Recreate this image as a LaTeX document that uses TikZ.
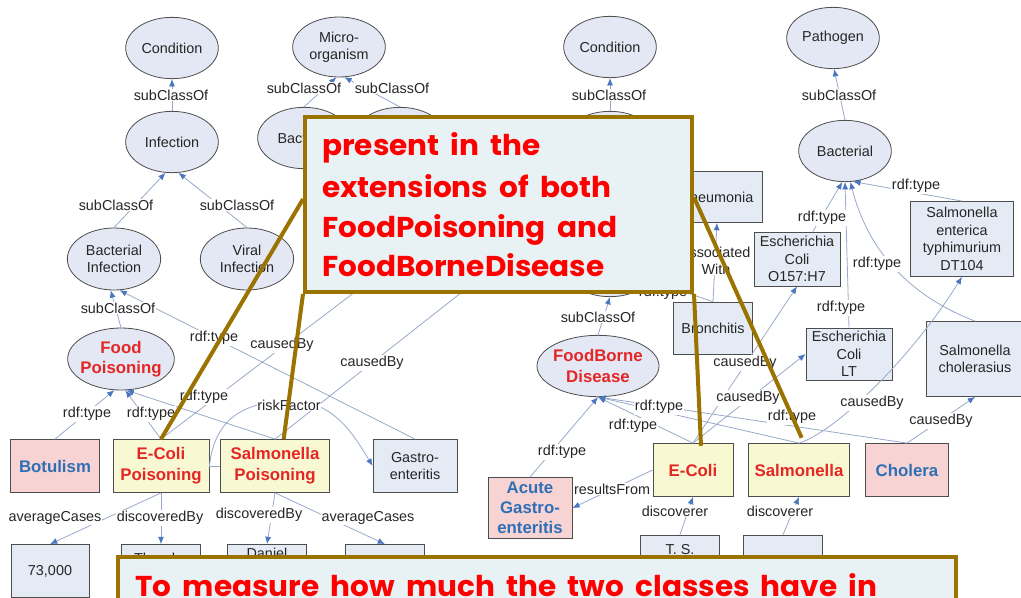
\documentclass[tikz,border=0pt]{standalone}
\usepackage{fontspec}
\setmainfont{Liberation Sans}
\newfontfamily\callfont{Poppins}[FakeStretch=1.03, WordSpace=1.8]
\usetikzlibrary{arrows.meta,shapes.geometric,calc}

\definecolor{edgecol}{HTML}{98AACB}
\definecolor{tipcol}{HTML}{4A76C0}
\definecolor{ellfill}{HTML}{E3E8F4}
\definecolor{boxfill}{HTML}{E5EBF5}
\definecolor{nodeborder}{HTML}{4D4D4D}
\definecolor{pinkfill}{HTML}{F8D3D3}
\definecolor{yellowfill}{HTML}{F8F8D2}
\definecolor{redtext}{HTML}{E42625}
\definecolor{bluetext}{HTML}{2E6FB5}
\definecolor{textdark}{HTML}{262626}
\definecolor{callfill}{HTML}{E8F1F3}
\definecolor{callborder}{HTML}{9A7300}
\definecolor{callred}{HTML}{FF0000}

\begin{document}
\begin{tikzpicture}[x=0.75pt,y=-0.75pt,
  cls/.style={ellipse, draw=nodeborder, line width=0.6pt, fill=ellfill, inner sep=0pt,
    align=center, text=textdark, font=\fontsize{10.8pt}{13pt}\selectfont,
    minimum width=69.5pt, minimum height=46pt},
  key/.style={cls, inner xsep=-4pt, text=redtext, font=\bfseries\fontsize{12.6pt}{15.3pt}\selectfont},
  box/.style={rectangle, draw=nodeborder, line width=0.6pt, fill=boxfill, inner sep=0pt,
    align=center, text=textdark, font=\fontsize{10.8pt}{13.2pt}\selectfont},
  inst/.style={box, fill=yellowfill, text=redtext, font=\bfseries\fontsize{12.6pt}{16pt}\selectfont},
  ext/.style={box, fill=pinkfill, text=bluetext, font=\bfseries\fontsize{12.6pt}{15pt}\selectfont},
  lbl/.style={fill=white, inner sep=0.6pt, text=textdark, align=center,
    font=\fontsize{10.8pt}{12.6pt}\selectfont},
  txt/.style={inner sep=0pt, text=textdark, align=center, font=\fontsize{10.8pt}{13pt}\selectfont},
  edge/.style={draw=edgecol, line width=0.6pt, -{Latex[length=5.5pt,width=4.5pt,color=tipcol]}},
  plain/.style={draw=edgecol, line width=0.6pt},
  callout/.style={rectangle, draw=callborder, line width=3pt, fill=callfill, inner sep=0pt},
  pointer/.style={draw=callborder, line width=3pt},
  calltext/.style={anchor=base west, inner sep=0pt, text=callred,
    font=\callfont\bfseries\fontsize{21.5pt}{30pt}\selectfont}
]
\useasboundingbox (0,0) rectangle (1021,597);
\fill[white] (0,0) rectangle (1021,597);

% ---------- class hierarchy (ellipses) ----------
\node[cls] (condA) at (172,48) {Condition};
\node[cls, minimum height=45pt] (micro) at (339,47) {Micro-\\organism};
\node[cls] (infection) at (172,142) {Infection};
\node[cls] (bacteria) at (304,138) {Bacteria};
\node[cls] (hidA) at (400,138) {};
\node[cls] (condB) at (610,47) {Condition};
\node[cls] (pathogen) at (833,38) {Pathogen};
\node[cls] (bacterial) at (845,151) {Bacterial};
\node[cls] (hidB) at (610,142) {};
\node[cls] (hidC) at (610,266) {};
\node[cls, minimum width=70pt, minimum height=46.5pt] (bactinf) at (114,259) {Bacterial\\Infection};
\node[cls, minimum width=70pt, minimum height=46.5pt] (viral) at (247,259) {Viral\\Infection};
\node[key, minimum width=80pt, minimum height=46.5pt] (foodpois) at (121,359) {Food\\Poisoning};
\node[key, minimum width=91.5pt, minimum height=46pt] (fbd) at (598,366) {FoodBorne\\Disease};

% ---------- individuals (boxes) ----------
\node[box, minimum width=67.5pt, minimum height=38.25pt] (pneu) at (717,197) {Pneumonia};
\node[box, minimum width=59.25pt, minimum height=39pt] (bronch) at (713,328) {Bronchitis};
\node[box, minimum width=64.5pt, minimum height=40.5pt] (o157) at (797,259) {Escherichia\\Coli\\O157:H7};
\node[box, minimum width=64.5pt, minimum height=39pt] (lt) at (849,354) {Escherichia\\Coli\\LT};
\node[box, minimum width=77.25pt, minimum height=56.25pt] (dt104) at (962,239) {Salmonella\\enterica\\typhimurium\\DT104};
\node[box, minimum width=73.5pt, minimum height=56.25pt] (chol) at (975,359) {Salmonella\\cholerasius};

\node[ext, minimum width=66.75pt, minimum height=39.75pt] (botulism) at (55,466) {Botulism};
\node[inst, minimum width=72pt, minimum height=39.75pt] (ecp) at (161,466) {E-Coli\\Poisoning};
\node[inst, minimum width=81.75pt, minimum height=39.75pt] (sp) at (275,466) {Salmonella\\Poisoning};
\node[box, minimum width=63pt, minimum height=39.75pt] (gastro) at (415,466) {Gastro-\\enteritis};

\node[box, minimum width=58.5pt, minimum height=39.75pt] (n73) at (50,571) {73,000};
\node[box, minimum width=59.25pt, minimum height=39.75pt] (theo) at (161,571) {};
\node[box, minimum width=59.25pt, minimum height=39.75pt] (daniel) at (267,571) {};
\node[box, minimum width=59.25pt, minimum height=39.75pt] (n4) at (385,571) {};
\node[txt] at (161,558) {Theodor};
\node[txt] at (267,553) {Daniel};

\node[ext, minimum width=63pt, minimum height=45.75pt] (acute) at (530,508) {Acute\\Gastro-\\enteritis};
\node[inst, minimum width=60pt, minimum height=39.75pt] (ecoli) at (693,470) {E-Coli};
\node[inst, minimum width=75.75pt, minimum height=39.75pt] (salm) at (799,470) {Salmonella};
\node[ext, minimum width=62.25pt, minimum height=39.75pt] (cholera) at (907,470) {Cholera};

\node[box, minimum width=59.25pt, minimum height=46.5pt] (ts) at (680,566) {};
\node[box, minimum width=59.25pt, minimum height=46.5pt] (ds) at (783,566) {};
\node[txt] at (680,550) {T. S.};
\node[txt] at (783,562) {D. Salmon};

% ---------- hidden ends under the first note ----------
\coordinate (ecpEnd) at (430,235);
\coordinate (spEnd) at (560,215);

% ---------- relations ----------
\draw[edge] (infection.north) -- (condA.south);
\draw[edge] (bacteria.north) -- (micro.265);
\draw[edge] (hidA.north) -- (micro.280);
\draw[edge] (bactinf.north) -- (infection.258);
\draw[edge] (viral.north) -- (infection.282);
\draw[edge] (foodpois.north) -- (bactinf.264);
\draw[edge] (gastro.north) -- (bactinf.280);
\draw[edge] (botulism.north) -- (foodpois.258);
\draw[edge] (ecp.north) -- (foodpois.278);
\draw[edge] (sp.north) -- (foodpois.280);
\draw[edge] (ecp.north) -- (ecpEnd);
\draw[edge] (sp.north) -- (spEnd);
\draw[plain] (ecp.east) -- (sp.west);
\draw[edge] (ecp.east) .. controls (214,425) and (236,402) .. (289,401)
  .. controls (330,400) and (350,428) .. (gastro.west);
\draw[edge] (ecp.south) -- (n73.north);
\draw[edge] (ecp.south) -- (theo.north);
\draw[edge] (sp.south) -- (daniel.north);
\draw[edge] (sp.south) -- (n4.north);

\draw[edge] (hidB.north) -- (condB.south);
\draw[edge] (bacterial.north) -- (pathogen.272);
\draw[edge] (fbd.north) -- (hidC.south);
\draw[plain] (bronch.north) -- (hidC.-20);
\draw[edge] (bronch.north) -- (pneu.south);
\draw[edge] (ecoli.north) -- (o157.south);
\draw[edge] (ecoli.north) -- (lt.west);
\draw[edge] (ecoli.north) -- (fbd.south);
\draw[edge] (salm.north) -- (fbd.south);
\draw[edge] (cholera.north) -- (fbd.south);
\draw[edge] (acute.north) -- (fbd.south);
\draw[edge] (ecoli.west) -- (acute.east);
\draw[edge] (ts.north) -- (ecoli.south);
\draw[edge] (ds.north) -- (salm.south);
\draw[edge] (salm.north) .. controls (835,432) and (910,360) .. (dt104.south);
\draw[edge] (cholera.north) -- (chol.south);
\draw[edge] (o157.60) -- (bacterial.265);
\draw[edge] (lt.north) -- (bacterial.270);
\draw[edge] (dt104.north) -- (bacterial.285);
\draw[edge] (chol.north) .. controls (920,300) and (870,260) .. (bacterial.280);

% ---------- relation labels ----------
\node[lbl] at (171,95) {subClassOf};
\node[lbl] at (304,88) {subClassOf};
\node[lbl] at (392,88) {subClassOf};
\node[lbl] at (116,205) {subClassOf};
\node[lbl] at (237,205) {subClassOf};
\node[lbl] at (118,308) {subClassOf};
\node[lbl] at (214,338) {rdf:type};
\node[lbl] at (282,345) {causedBy};
\node[lbl] at (372,363) {causedBy};
\node[lbl] at (87,414) {rdf:type};
\node[lbl] at (151,414) {rdf:type};
\node[lbl] at (204,397) {rdf:type};
\node[lbl] at (289,405) {riskFactor};
\node[lbl] at (55,518) {averageCases};
\node[lbl] at (160,518) {discoveredBy};
\node[lbl] at (259,515) {discoveredBy};
\node[lbl] at (368,518) {averageCases};

\node[lbl] at (609,95) {subClassOf};
\node[lbl] at (839,95) {subClassOf};
\node[lbl] at (598,317) {subClassOf};
\node[lbl] at (663,293) {rdf:type};
\node[lbl] at (716,261) {associated\\With};
\node[lbl] at (822,218) {rdf:type};
\node[lbl] at (841,308) {rdf:type};
\node[lbl] at (916,186) {rdf:type};
\node[lbl] at (877,264) {rdf:type};
\node[lbl] at (745,363) {causedBy};
\node[lbl] at (748,398) {causedBy};
\node[lbl] at (872,403) {causedBy};
\node[lbl] at (941,421) {causedBy};
\node[lbl] at (659,407) {rdf:type};
\node[lbl] at (633,426) {rdf:type};
\node[lbl] at (792,417) {rdf:type};
\node[lbl] at (562,452) {rdf:type};
\node[lbl] at (612,489) {resultsFrom};
\node[lbl] at (675,511) {discoverer};
\node[lbl] at (780,511) {discoverer};

% ---------- notes ----------
\node[callout, minimum width=290.25pt, minimum height=131.25pt] (note1) at (498.5,204.5) {};
\draw[pointer] ($(note1.north west)!0.47!(note1.south west)$) -- (ecp.north);
\draw[pointer] (note1.south west) -- ([xshift=6.5pt]sp.north);
\draw[pointer] ($(note1.north east)!0.46!(note1.south east)$) -- ([xshift=2pt,yshift=4pt]salm.north);
\draw[pointer] (note1.south east) -- ([xshift=6pt,yshift=-2pt]ecoli.north);
\node[calltext] at (322,155) {present in the};
\node[calltext] at (322,197) {extensions of both};
\node[calltext] at (322,237) {FoodPoisoning and};
\node[calltext] at (322,276) {FoodBorneDisease};

\node[callout, minimum width=628.5pt, minimum height=62.25pt] (note2) at (537,598.5) {};
\node[calltext] at (135,596) {To measure how much the two classes have in};
\end{tikzpicture}
\end{document}
